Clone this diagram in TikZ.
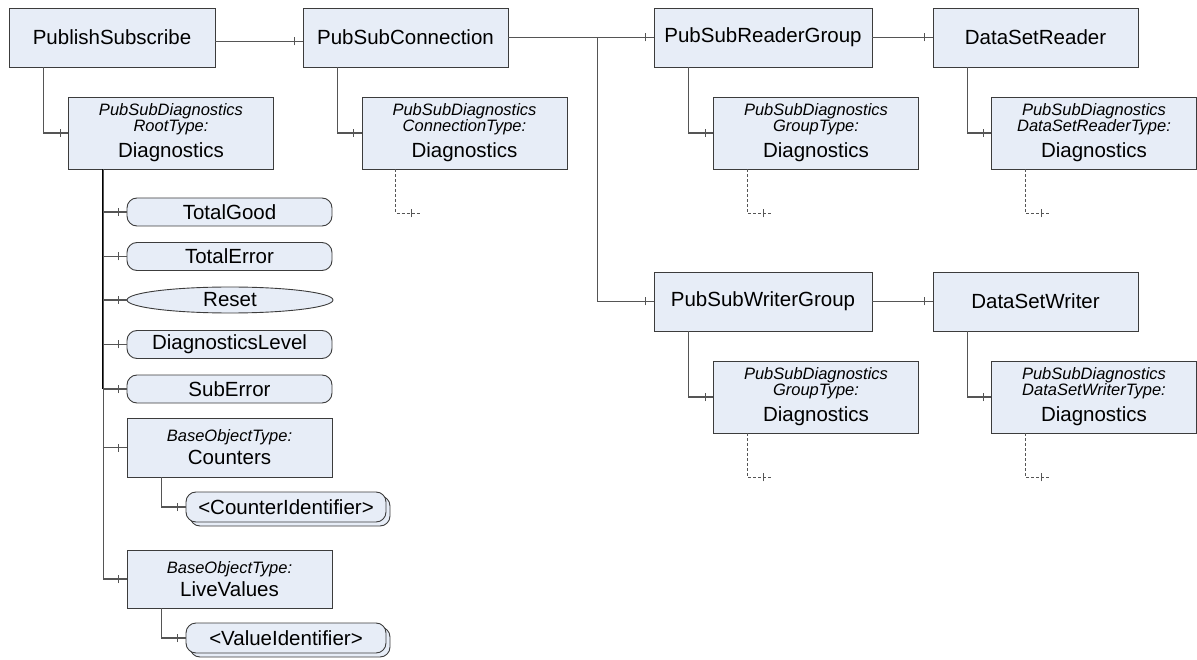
\documentclass[tikz,border=0pt]{standalone}
\usepackage{fontspec}
\setmainfont{Liberation Sans}
\usetikzlibrary{shapes.geometric,shadows,decorations.markings}
\definecolor{umlfill}{RGB}{231,237,247}
\definecolor{umledge}{RGB}{60,60,60}
\definecolor{umlline}{RGB}{85,85,85}
\newcommand{\diagtypefont}{\fontsize{16.5}{17}\selectfont\itshape}

\begin{document}
\begin{tikzpicture}[
  x=1pt, y=-1pt,
  every node/.style={font=\fontsize{20.5}{24}\selectfont},
  objnode/.style={draw=umledge,fill=umlfill,line width=0.9pt,minimum width=206pt,
                  minimum height=59pt,inner sep=0pt,align=center},
  diagnode/.style={objnode,minimum width=205pt,minimum height=72pt},
  varnode/.style={draw=umledge,fill=umlfill,line width=0.9pt,rounded corners=10pt,
                  minimum width=205pt,minimum height=28pt,inner sep=0pt},
  methnode/.style={ellipse,draw=umledge,fill=umlfill,line width=0.9pt,
                   minimum width=206pt,minimum height=26pt,inner sep=0pt},
  multinode/.style={varnode,minimum width=200pt,minimum height=30pt,
                    copy shadow={shadow xshift=4pt,shadow yshift=-4pt,fill=umlfill,
                                 draw=umledge,line width=0.9pt}},
  ref/.style={draw=umlline,line width=1.1pt,
              postaction={decorate,decoration={markings,mark=at position -8pt with
                {\draw[umlline,line width=1pt,solid] (0,-4pt) -- (0,4pt);}}}},
  optref/.style={ref,dash pattern=on 3pt off 2pt,line width=0.9pt},
]
  \useasboundingbox (0,0) rectangle (1197,660);

  % Top level objects
  \node[objnode] (pubsub) at (112,37.5) {PublishSubscribe};
  \node[objnode,minimum width=205pt] (conn) at (405.5,37.5) {PubSubConnection};
  \node[objnode,minimum width=218pt] (readergrp) at (763,37.5) {PubSubReaderGroup};
  \node[objnode,minimum width=205pt] (dsreader) at (1035.5,37.5) {DataSetReader};
  \node[objnode,minimum width=218pt] (writergrp) at (763,301.5) {PubSubWriterGroup};
  \node[objnode,minimum width=205pt] (dswriter) at (1035.5,301.5) {DataSetWriter};

  % Diagnostics objects
  \node[diagnode] (rootdiag) at (171,133)
    {{\diagtypefont PubSubDiagnostics}\\[-8pt]{\diagtypefont RootType:}\\[2pt]Diagnostics};
  \node[diagnode] (conndiag) at (464.5,133)
    {{\diagtypefont PubSubDiagnostics}\\[-8pt]{\diagtypefont ConnectionType:}\\[2pt]Diagnostics};
  \node[diagnode] (rgdiag) at (816,133)
    {{\diagtypefont PubSubDiagnostics}\\[-8pt]{\diagtypefont GroupType:}\\[2pt]Diagnostics};
  \node[diagnode] (dsrdiag) at (1094,133)
    {{\diagtypefont PubSubDiagnostics}\\[-8pt]{\diagtypefont DataSetReaderType:}\\[2pt]Diagnostics};
  \node[diagnode] (wgdiag) at (816,397)
    {{\diagtypefont PubSubDiagnostics}\\[-8pt]{\diagtypefont GroupType:}\\[2pt]Diagnostics};
  \node[diagnode] (dswdiag) at (1094,397)
    {{\diagtypefont PubSubDiagnostics}\\[-8pt]{\diagtypefont DataSetWriterType:}\\[2pt]Diagnostics};

  % Members of the root diagnostics
  \node[varnode] (totalgood) at (229.5,212) {TotalGood};
  \node[varnode] (totalerror) at (229.5,256.5) {TotalError};
  \node[methnode] (reset) at (230,300) {Reset};
  \node[varnode] (level) at (229.5,344.5) {DiagnosticsLevel};
  \node[varnode] (suberror) at (229.5,389) {SubError};
  \node[objnode,minimum width=205pt] (counters) at (229.5,447.5)
    {{\diagtypefont BaseObjectType:}\\[-1pt]Counters};
  \node[multinode] (counterid) at (286,507) {<CounterIdentifier>};
  \node[objnode,minimum width=205pt,minimum height=58pt] (livevals) at (229.5,579)
    {{\diagtypefont BaseObjectType:}\\[-1pt]LiveValues};
  \node[multinode] (valueid) at (286,638) {<ValueIdentifier>};

  % References between objects
  \draw[ref] ([yshift=-4pt]pubsub.east) -- ([yshift=-4pt]conn.west);
  \draw[ref] (conn.east) -- (readergrp.west);
  \coordinate (fork) at ([xshift=89pt]conn.east);
  \draw[ref] (fork) |- (writergrp.west);
  \draw[ref] (readergrp.east) -- (dsreader.west);
  \draw[ref] (writergrp.east) -- (dswriter.west);

  \foreach \p/\c in {pubsub/rootdiag,conn/conndiag,readergrp/rgdiag,dsreader/dsrdiag,
                     writergrp/wgdiag,dswriter/dswdiag,counters/counterid,livevals/valueid}
    \draw[ref] ([xshift=35pt]\p.south west) |- (\c.west);

  % Optional stubs below the diagnostics
  \foreach \d in {conndiag,rgdiag,dsrdiag,wgdiag,dswdiag}
    \draw[optref] ([xshift=34pt]\d.south west) |- ([xshift=58pt,yshift=-44pt]\d.south west);

  % Trunk of the root diagnostics
  \coordinate (trunk) at ([xshift=35pt]rootdiag.south west);
  \draw[line width=2pt,black] (trunk) -- (trunk |- suberror.west);
  \foreach \i in {totalgood,totalerror,reset,level,suberror,counters,livevals}
    \draw[ref] (trunk) |- (\i.west);
\end{tikzpicture}
\end{document}
